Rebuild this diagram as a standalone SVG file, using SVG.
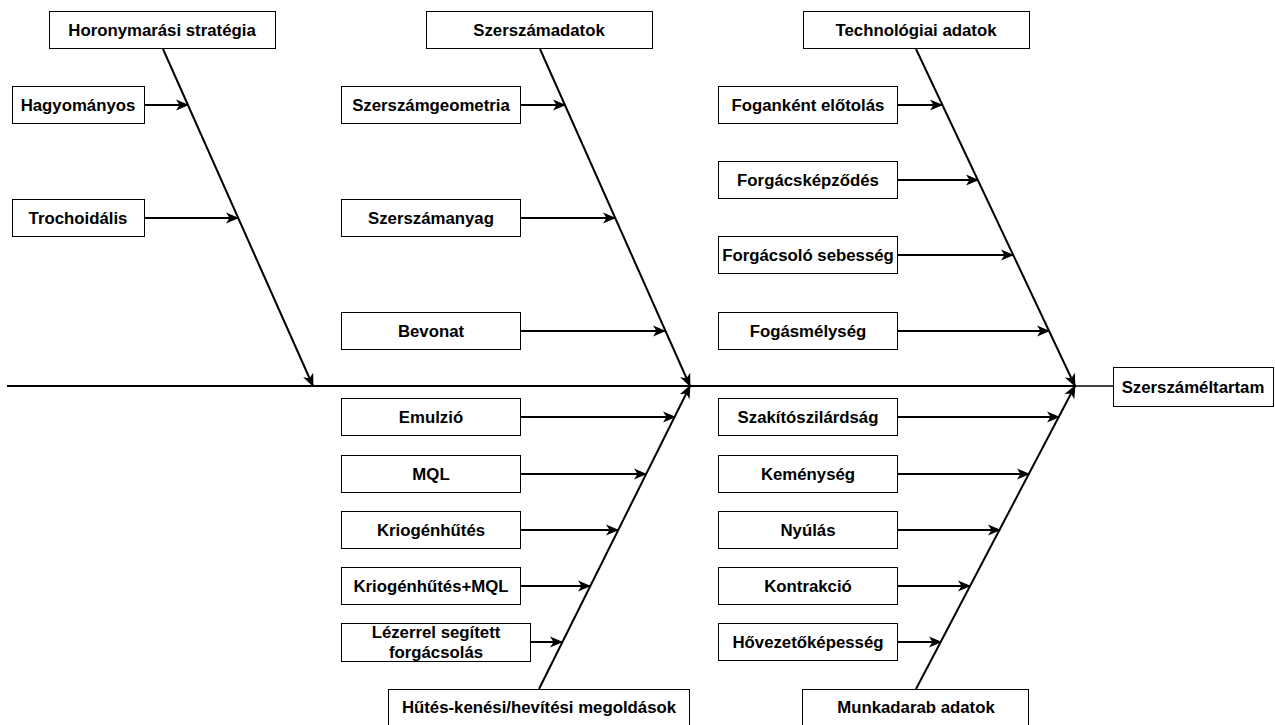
<svg xmlns="http://www.w3.org/2000/svg" width="1275" height="725" viewBox="0 0 1275 725">
<defs>
<style>
.b{fill:#fff;stroke:#000;stroke-width:1}
.t{font-family:"Liberation Sans",Arial,sans-serif;font-weight:bold;font-size:16.8px;fill:#000;text-anchor:middle;dominant-baseline:central}
.c{stroke:#000;stroke-width:2;fill:none}
</style>
<marker id="ar" markerUnits="userSpaceOnUse" markerWidth="16" markerHeight="14" refX="12" refY="5.5" orient="auto" viewBox="0 0 16 11">
<path d="M0,0 L13,5.5 L0,11 L3.5,5.5 Z" fill="#000"/>
</marker>
</defs>
<rect width="1275" height="725" fill="#fff"/>
<g id="connectors">
<line class="c" x1="7" y1="386" x2="1075" y2="386"/>
<line x1="1075" y1="386" x2="1113" y2="386" stroke="#000" stroke-width="1.3"/>
<line class="c" x1="163" y1="49" x2="313" y2="386" marker-end="url(#ar)"/>
<line class="c" x1="540" y1="49" x2="690" y2="386" marker-end="url(#ar)"/>
<line class="c" x1="916" y1="49" x2="1075" y2="386" marker-end="url(#ar)"/>
<line class="c" x1="539" y1="689" x2="690" y2="386" marker-end="url(#ar)"/>
<line class="c" x1="916" y1="689" x2="1075" y2="386" marker-end="url(#ar)"/>
<line class="c" x1="144" y1="105" x2="188" y2="105" marker-end="url(#ar)"/>
<line class="c" x1="144" y1="218" x2="238" y2="218" marker-end="url(#ar)"/>
<line class="c" x1="520" y1="105" x2="565" y2="105" marker-end="url(#ar)"/>
<line class="c" x1="520" y1="218" x2="615" y2="218" marker-end="url(#ar)"/>
<line class="c" x1="520" y1="331" x2="665" y2="331" marker-end="url(#ar)"/>
<line class="c" x1="897" y1="105" x2="942" y2="105" marker-end="url(#ar)"/>
<line class="c" x1="897" y1="180" x2="978" y2="180" marker-end="url(#ar)"/>
<line class="c" x1="897" y1="255" x2="1013" y2="255" marker-end="url(#ar)"/>
<line class="c" x1="897" y1="331" x2="1049" y2="331" marker-end="url(#ar)"/>
<line class="c" x1="520" y1="417" x2="675" y2="417" marker-end="url(#ar)"/>
<line class="c" x1="520" y1="474" x2="646" y2="474" marker-end="url(#ar)"/>
<line class="c" x1="520" y1="530" x2="618" y2="530" marker-end="url(#ar)"/>
<line class="c" x1="520" y1="586" x2="590" y2="586" marker-end="url(#ar)"/>
<line class="c" x1="530" y1="642" x2="562" y2="642" marker-end="url(#ar)"/>
<line class="c" x1="897" y1="417" x2="1059" y2="417" marker-end="url(#ar)"/>
<line class="c" x1="897" y1="474" x2="1029" y2="474" marker-end="url(#ar)"/>
<line class="c" x1="897" y1="530" x2="1000" y2="530" marker-end="url(#ar)"/>
<line class="c" x1="897" y1="586" x2="970" y2="586" marker-end="url(#ar)"/>
<line class="c" x1="897" y1="642" x2="941" y2="642" marker-end="url(#ar)"/>
</g>
<g id="n-horony"><rect class="b" x="49.5" y="11.5" width="226" height="37"/><text class="t" x="162" y="30">Horonymarási stratégia</text></g>
<g id="n-szerszamadatok"><rect class="b" x="426.5" y="11.5" width="226" height="37"/><text class="t" x="539" y="30">Szerszámadatok</text></g>
<g id="n-technologiai"><rect class="b" x="803.5" y="11.5" width="226" height="37"/><text class="t" x="916" y="30">Technológiai adatok</text></g>
<g id="n-hagyomanyos"><rect class="b" x="12.5" y="86.5" width="132" height="37"/><text class="t" x="78" y="105">Hagyományos</text></g>
<g id="n-trochoidalis"><rect class="b" x="12.5" y="199.5" width="132" height="37"/><text class="t" x="78" y="218">Trochoidális</text></g>
<g id="n-geometria"><rect class="b" x="341.5" y="86.5" width="179" height="37"/><text class="t" x="431" y="105">Szerszámgeometria</text></g>
<g id="n-anyag"><rect class="b" x="341.5" y="199.5" width="179" height="37"/><text class="t" x="431" y="218">Szerszámanyag</text></g>
<g id="n-bevonat"><rect class="b" x="341.5" y="312.5" width="179" height="37"/><text class="t" x="431" y="331">Bevonat</text></g>
<g id="n-eloto"><rect class="b" x="718.5" y="86.5" width="179" height="37"/><text class="t" x="808" y="105">Foganként előtolás</text></g>
<g id="n-forgacskepz"><rect class="b" x="718.5" y="161.5" width="179" height="37"/><text class="t" x="808" y="180">Forgácsképződés</text></g>
<g id="n-sebesseg"><rect class="b" x="718.5" y="236.5" width="179" height="37"/><text class="t" x="808" y="255">Forgácsoló sebesség</text></g>
<g id="n-fogasm"><rect class="b" x="718.5" y="312.5" width="179" height="37"/><text class="t" x="808" y="331">Fogásmélység</text></g>
<g id="n-eredmeny"><rect class="b" x="1113.5" y="367.5" width="160" height="39"/><text class="t" x="1193" y="387">Szerszáméltartam</text></g>
<g id="n-emulzio"><rect class="b" x="341.5" y="398.5" width="179" height="37"/><text class="t" x="431" y="417">Emulzió</text></g>
<g id="n-mql"><rect class="b" x="341.5" y="455.5" width="179" height="37"/><text class="t" x="431" y="474">MQL</text></g>
<g id="n-krio"><rect class="b" x="341.5" y="511.5" width="179" height="37"/><text class="t" x="431" y="530">Kriogénhűtés</text></g>
<g id="n-kriomql"><rect class="b" x="341.5" y="567.5" width="179" height="37"/><text class="t" x="431" y="586">Kriogénhűtés+MQL</text></g>
<g id="n-lezer"><rect class="b" x="341.5" y="623.5" width="189" height="38"/><text class="t" x="436" y="632">Lézerrel segített</text><text class="t" x="436" y="652">forgácsolás</text></g>
<g id="n-huto"><rect class="b" x="388.5" y="689.5" width="301" height="40"/><text class="t" x="539" y="707">Hűtés-kenési/hevítési megoldások</text></g>
<g id="n-szakito"><rect class="b" x="718.5" y="398.5" width="179" height="37"/><text class="t" x="808" y="417">Szakítószilárdság</text></g>
<g id="n-kemeny"><rect class="b" x="718.5" y="455.5" width="179" height="37"/><text class="t" x="808" y="474">Keménység</text></g>
<g id="n-nyulas"><rect class="b" x="718.5" y="511.5" width="179" height="37"/><text class="t" x="808" y="530">Nyúlás</text></g>
<g id="n-kontrakcio"><rect class="b" x="718.5" y="567.5" width="179" height="37"/><text class="t" x="808" y="586">Kontrakció</text></g>
<g id="n-hovez"><rect class="b" x="718.5" y="623.5" width="179" height="37"/><text class="t" x="808" y="642">Hővezetőképesség</text></g>
<g id="n-munkadarab"><rect class="b" x="802.5" y="689.5" width="226" height="40"/><text class="t" x="916" y="707">Munkadarab adatok</text></g>
</svg>
